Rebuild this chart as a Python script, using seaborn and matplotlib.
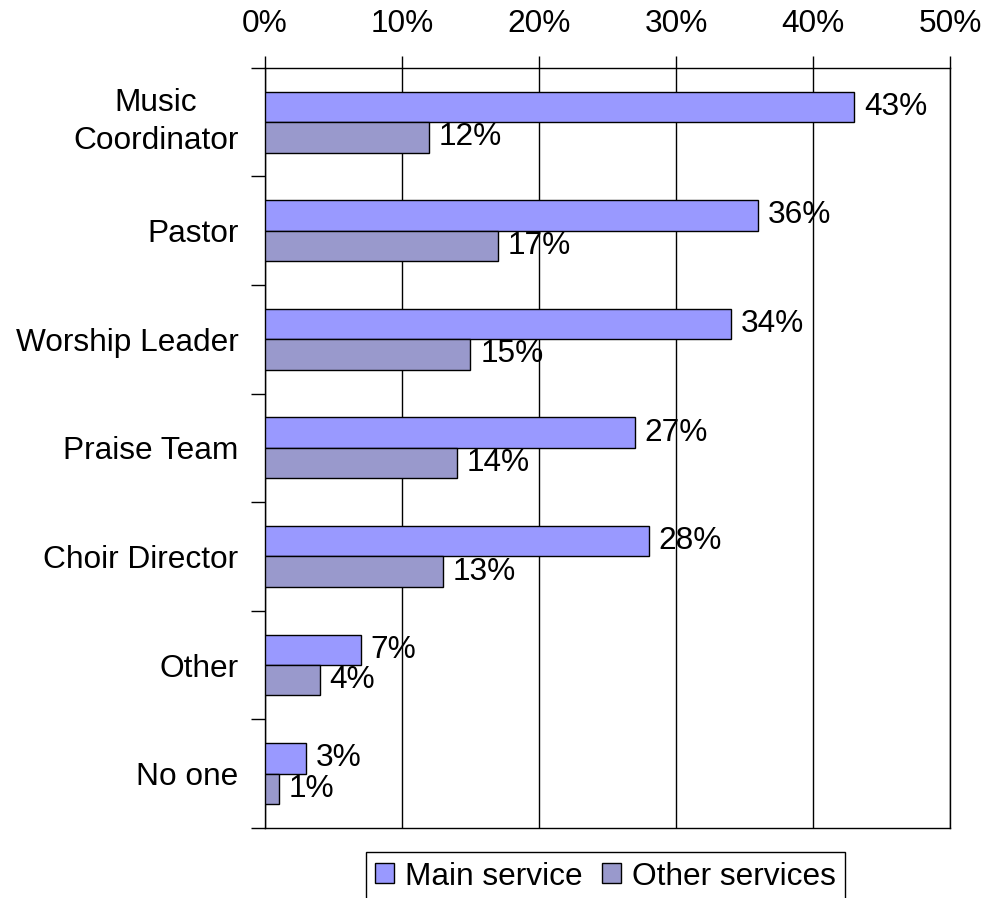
import matplotlib
matplotlib.use("Agg")
import matplotlib.pyplot as plt
import seaborn as sns
import pandas as pd
from matplotlib.ticker import FuncFormatter, FixedLocator

# data
roles = ["Music\nCoordinator", "Pastor", "Worship Leader", "Praise Team",
         "Choir Director", "Other", "No one"]
main_service = [43, 36, 34, 27, 28, 7, 3]
other_services = [12, 17, 15, 14, 13, 4, 1]
series_names = ["Main service", "Other services"]
x_ticks = [0, 10, 20, 30, 40, 50]

df = pd.DataFrame({
    "role": roles * 2,
    "value": main_service + other_services,
    "series": [series_names[0]] * len(roles) + [series_names[1]] * len(roles),
})

FS = 22.8

sns.set_style("white")
plt.rcParams["font.family"] = ["Liberation Sans", "DejaVu Sans"]
plt.rcParams["font.size"] = FS
plt.rcParams["text.color"] = "black"
plt.rcParams["xtick.color"] = "black"
plt.rcParams["ytick.color"] = "black"
plt.rcParams["axes.labelcolor"] = "black"

fig = plt.figure(figsize=(9.85, 8.98), dpi=100)
ax = fig.add_axes([0.269, 0.078, 0.6955, 0.8465])

sns.barplot(data=df, y="role", x="value", hue="series", order=roles,
            hue_order=series_names, palette=["#9999FF", "#9999CC"],
            orient="h", width=0.56, gap=0, edgecolor="black", linewidth=1,
            saturation=1, ax=ax, zorder=3)

for cont in ax.containers:
    ax.bar_label(cont, fmt="%d%%", padding=7, fontsize=FS, color="black", zorder=4)

ax.set_xlim(0, 50)
ax.set_ylim(6.5, -0.5)
ax.xaxis.tick_top()
ax.xaxis.set_major_locator(FixedLocator(x_ticks))
ax.xaxis.set_major_formatter(FuncFormatter(lambda v, p: f"{v:.0f}%"))
ax.tick_params(axis="x", length=9, width=1, color="black", pad=12,
               labelsize=FS, labelcolor="black", direction="out")
ax.grid(axis="x", color="black", linewidth=1, zorder=0)
ax.set_axisbelow(True)

# category boundaries carry the y ticks
ax.yaxis.set_minor_locator(FixedLocator([i - 0.5 for i in range(len(roles) + 1)]))
ax.tick_params(axis="y", which="major", length=0, pad=19, labelsize=FS,
               labelcolor="black")
ax.tick_params(axis="y", which="minor", length=10, width=1, color="black",
               direction="out", left=True)
for lbl in ax.get_yticklabels():
    lbl.set_horizontalalignment("right")
    lbl.set_multialignment("center")
    lbl.set_linespacing(1.35)
    if "\n" in lbl.get_text():
        lbl.set_verticalalignment("center")

ax.set_xlabel("")
ax.set_ylabel("")
for side in ["top", "left", "bottom", "right"]:
    ax.spines[side].set_visible(True)
    ax.spines[side].set_color("black")
    ax.spines[side].set_linewidth(1)

ax.get_legend().remove()
handles, labels = ax.get_legend_handles_labels()
leg = fig.legend(handles, labels, loc="upper center", bbox_to_anchor=(0.6147, 0.0512),
                 ncol=2, frameon=True, fancybox=False, edgecolor="black",
                 framealpha=1, fontsize=FS, handlelength=0.6, handleheight=0.6,
                 handletextpad=0.35, columnspacing=0.6, borderpad=0.3,
                 borderaxespad=0)
leg.get_frame().set_linewidth(1)

fig.savefig("out.png", dpi=100)
